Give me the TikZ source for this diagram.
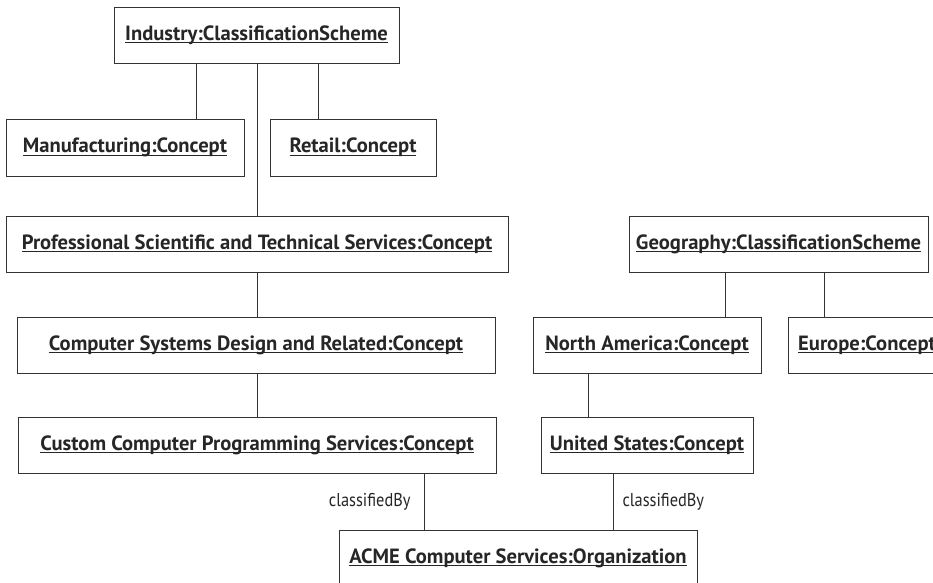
\documentclass[tikz,border=0pt]{standalone}
\usepackage{fontspec}
\setmainfont{PT Sans}
\newfontfamily\lblfont[FakeStretch=0.88]{PT Sans}
\newcommand\myul[1]{\setbox0\hbox{#1}\rlap{\rule[-3pt]{\wd0}{1.1pt}}\box0}
\begin{document}
\begin{tikzpicture}[x=1pt,y=-1pt,
  obj/.style={draw=black!80, line width=1pt, rectangle, inner sep=0pt,
    minimum height=56pt, font=\fontsize{20.6}{22}\selectfont\bfseries, text=black!85},
  conn/.style={draw=black!80, line width=1pt},
  lbl/.style={font=\lblfont\fontsize{18.6}{20}\selectfont, text=black!85, inner sep=0pt}]
\useasboundingbox (0,0) rectangle (933,582);
\clip (0,0) rectangle (933,582);
\fill[white] (0,0) rectangle (933,582);
% nodes
\node[obj, minimum width=285pt] (ind) at (256.5,35) {\myul{Industry:ClassificationScheme}};
\node[obj, minimum width=238pt, minimum height=57pt] (man) at (125,147.5) {\myul{Manufacturing:Concept}};
\node[obj, minimum width=166pt, minimum height=57pt] (ret) at (353,147.5) {\myul{Retail:Concept}};
\node[obj, minimum width=502pt] (pro) at (257,244) {\myul{Professional Scientific and Technical Services:Concept}};
\node[obj, minimum width=299pt] (geo) at (778.5,244) {\myul{Geography:ClassificationScheme}};
\node[obj, minimum width=478pt] (csd) at (256,345) {\myul{Computer Systems Design and Related:Concept}};
\node[obj, minimum width=228pt] (na) at (647,345) {\myul{North America:Concept}};
\node[obj, minimum width=158pt] (eu) at (867,345) {\myul{Europe:Concept}};
\node[obj, minimum width=478pt] (ccp) at (257,445) {\myul{Custom Computer Programming Services:Concept}};
\node[obj, minimum width=212pt] (us) at (647,445) {\myul{United States:Concept}};
\node[obj, minimum width=358pt] (acme) at (518,558) {\myul{ACME Computer Services:Organization}};
% connector x positions
\coordinate (xa) at (196,0);
\coordinate (xb) at (257,0);
\coordinate (xc) at (318,0);
\coordinate (xd) at (725,0);
\coordinate (xe) at (824,0);
\coordinate (xf) at (588,0);
\coordinate (xg) at (424,0);
\coordinate (xh) at (613,0);
% connectors
\draw[conn] (ind.south -| xa) -- (man.north -| xa);
\draw[conn] (ind.south -| xb) -- (pro.north -| xb);
\draw[conn] (ind.south -| xc) -- (ret.north -| xc);
\draw[conn] (pro.south -| xb) -- (csd.north -| xb);
\draw[conn] (csd.south -| xb) -- (ccp.north -| xb);
\draw[conn] (geo.south -| xd) -- (na.north -| xd);
\draw[conn] (geo.south -| xe) -- (eu.north -| xe);
\draw[conn] (na.south -| xf) -- (us.north -| xf);
\draw[conn] (ccp.south -| xg) -- node[lbl, anchor=east, xshift=-13pt] (l1) {classifiedBy} (acme.north -| xg);
\draw[conn] (us.south -| xh) -- node[lbl, anchor=west, xshift=9pt] (l2) {classifiedBy} (acme.north -| xh);
\end{tikzpicture}
\end{document}
